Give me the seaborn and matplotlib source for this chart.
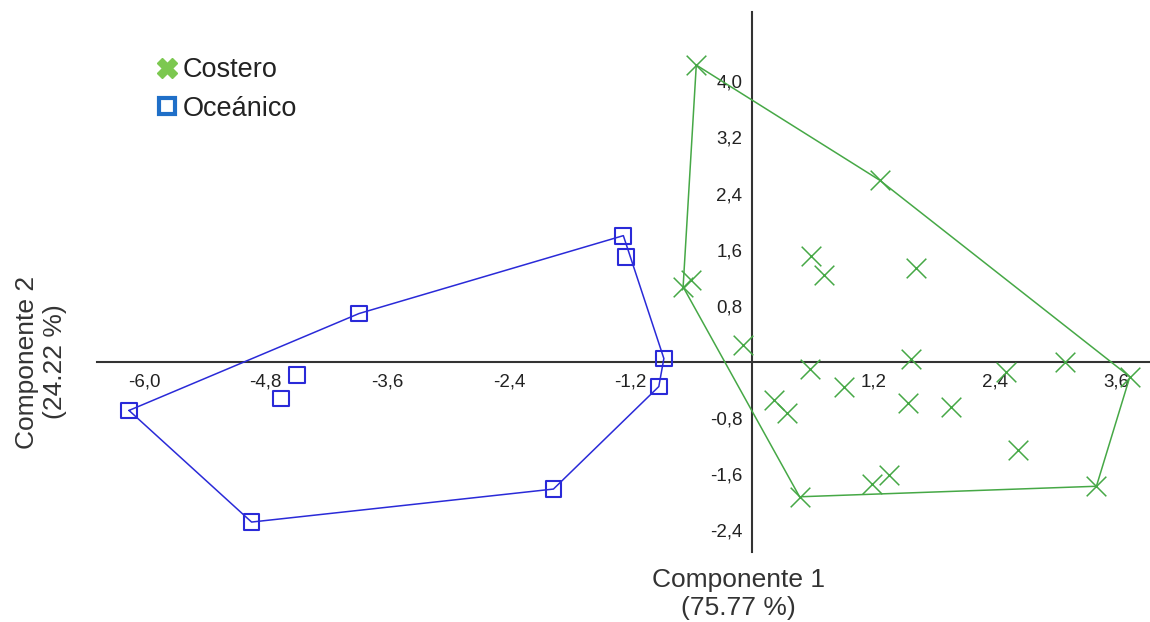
import numpy as np
import pandas as pd
import matplotlib
matplotlib.use("Agg")
import matplotlib.pyplot as plt
from matplotlib.lines import Line2D
import seaborn as sns

# ---- data ----
oce_x = [-6.15, -3.88, -4.49, -4.65, -4.94, -1.27, -1.24, -0.87, -0.92, -1.96]
oce_y = [-0.69, 0.69, -0.19, -0.52, -2.28, 1.80, 1.50, 0.05, -0.35, -1.81]

cos_x = [-0.55, 1.26, 0.58, 0.71, 1.62, -0.68, -0.60, -0.09, 0.57, 0.91, 0.22,
         0.35, 1.57, 1.54, 1.96, 2.51, 3.09, 3.73, 2.63, 3.40, 1.35, 1.18, 0.47]
cos_y = [4.23, 2.59, 1.51, 1.24, 1.34, 1.07, 1.17, 0.24, -0.10, -0.35, -0.54,
         -0.73, 0.04, -0.59, -0.64, -0.14, 0.00, -0.21, -1.25, -1.77, -1.61, -1.74, -1.92]

groups = ["Costero", "Oceánico"]
x_ticks = [-6.0, -4.8, -3.6, -2.4, -1.2, 1.2, 2.4, 3.6]
x_ticklabels = ["-6,0", "-4,8", "-3,6", "-2,4", "-1,2", "1,2", "2,4", "3,6"]
y_ticks = [-2.4, -1.6, -0.8, 0.8, 1.6, 2.4, 3.2, 4.0]
y_ticklabels = ["-2,4", "-1,6", "-0,8", "0,8", "1,6", "2,4", "3,2", "4,0"]
xlabel = "Componente 1\n(75.77 %)"
ylabel = "Componente 2\n(24.22 %)"

GREEN = "#46a846"
BLUE = "#2a2ad8"
AXC = "#333333"


def convex_hull(xs, ys):
    pts = sorted(set(zip(xs, ys)))
    def cross(o, a, b):
        return (a[0]-o[0])*(b[1]-o[1]) - (a[1]-o[1])*(b[0]-o[0])
    lower, upper = [], []
    for p in pts:
        while len(lower) >= 2 and cross(lower[-2], lower[-1], p) <= 0:
            lower.pop()
        lower.append(p)
    for p in reversed(pts):
        while len(upper) >= 2 and cross(upper[-2], upper[-1], p) <= 0:
            upper.pop()
        upper.append(p)
    hull = lower[:-1] + upper[:-1]
    hull.append(hull[0])
    return np.array(hull)


sns.set_theme(style="white")
plt.rcParams["font.family"] = ["Liberation Sans", "DejaVu Sans"]

fig = plt.figure(figsize=(11.5, 6.22), dpi=100)
W, H = 1150, 622
ax = fig.add_axes([97 / W, (H - 552) / H, (1150 - 97) / W, 540 / H])

# hulls
for xs, ys, c in [(cos_x, cos_y, GREEN), (oce_x, oce_y, BLUE)]:
    h = convex_hull(xs, ys)
    ax.plot(h[:, 0], h[:, 1], color=c, lw=1.1, zorder=2)

df_c = pd.DataFrame({"x": cos_x, "y": cos_y})
df_o = pd.DataFrame({"x": oce_x, "y": oce_y})
sns.scatterplot(data=df_c, x="x", y="y", ax=ax, marker="x", s=200,
                color=GREEN, linewidth=1.1, zorder=3, legend=False)
sns.scatterplot(data=df_o, x="x", y="y", ax=ax, marker="s", s=130,
                facecolor="none", edgecolor=BLUE, linewidth=1.5, zorder=3,
                legend=False)

ax.set_xlim((97 - 752) / 101.3, (1150 - 752) / 101.3)
ax.set_ylim((362 - 552) / 70.2, (362 - 12) / 70.2)

for s in ["top", "right"]:
    ax.spines[s].set_visible(False)
ax.spines["left"].set_position(("data", 0))
ax.spines["bottom"].set_position(("data", 0))
for s in ["left", "bottom"]:
    ax.spines[s].set_color(AXC)
    ax.spines[s].set_linewidth(1.5)
    ax.spines[s].set_zorder(1)

ax.set_xticks(x_ticks)
ax.set_xticklabels(x_ticklabels)
ax.set_yticks(y_ticks)
ax.set_yticklabels(y_ticklabels)
ax.tick_params(axis="both", direction="out", length=4, width=1.2, color=AXC,
               labelcolor="#222222", labelsize=13.5)
ax.tick_params(axis="x", pad=4)
ax.tick_params(axis="y", pad=3)
ax.set_xlabel("")
ax.set_ylabel("")
ax.grid(False)

fig.text(738 / W, 1 - 594 / H, xlabel, ha="center", va="center",
         fontsize=19, color=AXC, linespacing=1.2)
fig.text(41 / W, 1 - 362 / H, ylabel, ha="center", va="center",
         rotation=90, fontsize=19, color=AXC, linespacing=1.2)

handles = [
    Line2D([], [], linestyle="none", marker="X", markersize=15,
           color="#7cc850", markeredgecolor="#7cc850"),
    Line2D([], [], linestyle="none", marker="s", markersize=11,
           markerfacecolor="white", markeredgecolor="#1f6fc8",
           markeredgewidth=3),
]
leg = fig.legend(handles, groups, loc="upper left",
                 bbox_to_anchor=(156 / W, 1 - 57 / H), frameon=False,
                 fontsize=19.5, handlelength=0.8, handletextpad=0.2,
                 labelspacing=0.47, borderpad=0, borderaxespad=0)
for t in leg.get_texts():
    t.set_color("#222222")

fig.savefig("out.png", dpi=100, facecolor="white")
